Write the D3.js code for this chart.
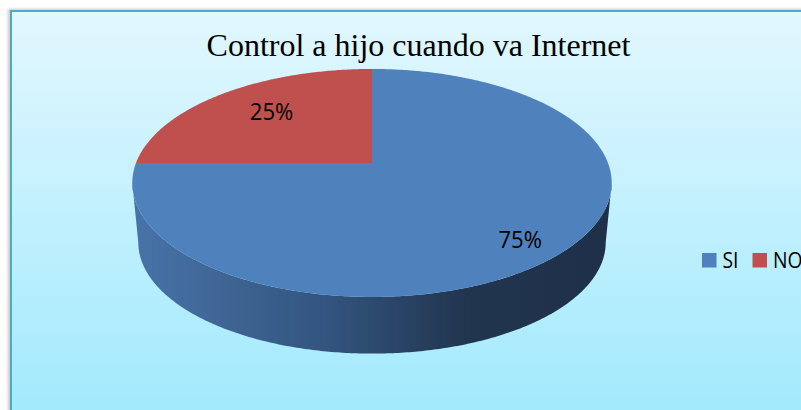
<!DOCTYPE html>
<html>
<head>
<meta charset="utf-8">
<script src="https://cdn.jsdelivr.net/npm/d3@7"></script>
<style>
  body { margin: 0; background: #fff; }
</style>
</head>
<body>
<div id="chart"></div>
<script>
// data
const categories = ["SI", "NO"];
const values = [75, 25];
const colors = ["#4f81bd", "#c0504d"];
const title = "Control a hijo cuando va Internet";

const width = 801;
const height = 410;

// 3d pie "camera": centre, radii, perspective and depth
const cx = 372, cy = 163;
const A = 236, B = 110.5, p = 0.175;
const depth = 60, shrink = 0.975;
const labelRadius = {SI: 0.8, NO: 0.65};
const labelStretch = 1.1;

const svg = d3.select("#chart").append("svg")
    .attr("width", width)
    .attr("height", height);

const defs = svg.append("defs");

// background gradient
const bg = defs.append("linearGradient")
    .attr("id", "bg").attr("x1", 0).attr("y1", 0).attr("x2", 0).attr("y2", 1);
bg.append("stop").attr("offset", 0).attr("stop-color", "#e2f7fe");
bg.append("stop").attr("offset", 1).attr("stop-color", "#9fe9fd");

// side gradient (left lighter, right dark)
const side = defs.append("linearGradient")
    .attr("id", "side").attr("gradientUnits", "userSpaceOnUse")
    .attr("x1", cx - A).attr("x2", cx + A).attr("y1", 0).attr("y2", 0);
side.append("stop").attr("offset", 0).attr("stop-color", "#4873a8");
side.append("stop").attr("offset", 0.4).attr("stop-color", "#33557f");
side.append("stop").attr("offset", 0.7).attr("stop-color", "#21354f");
side.append("stop").attr("offset", 1).attr("stop-color", "#1f3049");

const shadow = defs.append("filter").attr("id", "shadow")
    .attr("x", "-5%").attr("y", "-5%").attr("width", "110%").attr("height", "110%");
shadow.append("feGaussianBlur").attr("stdDeviation", 1.5);

// chart area frame
svg.append("rect")
    .attr("x", 8).attr("y", 9).attr("width", 820).attr("height", 420)
    .attr("fill", "#c8c8c8").attr("filter", "url(#shadow)");
svg.append("rect")
    .attr("x", 11).attr("y", 11).attr("width", 820).attr("height", 420)
    .attr("fill", "url(#bg)")
    .attr("stroke", "#4bacc6").attr("stroke-width", 2);

// title
svg.append("text")
    .attr("x", 418.5).attr("y", 56)
    .attr("text-anchor", "middle")
    .attr("font-family", "'Liberation Serif', 'Times New Roman', serif")
    .attr("font-size", 32)
    .attr("fill", "#000")
    .text(title);

// projection of a pie angle (d3 convention) at radius r onto top (0) or bottom (1) face
function proj(a, r, level) {
  const X = Math.sin(a) * r, Z = -Math.cos(a) * r;
  const s = level ? shrink : 1;
  const w = 1 - p * Z;
  return [cx + s * A * X / w, cy + (level ? depth : 0) + s * B * Z / w];
}

function arcPoints(a0, a1, level) {
  const n = Math.max(2, Math.ceil(Math.abs(a1 - a0) / 0.01));
  return d3.range(n + 1).map(i => proj(a0 + (a1 - a0) * i / n, 1, level));
}

const pie = d3.pie().sort(null).value(d => d)
    .startAngle(0).endAngle(2 * Math.PI);
const arcs = pie(values);

// side wall (visible front part)
const aR = Math.acos(-p), aL = 2 * Math.PI - Math.acos(-p);
const sidePts = arcPoints(aR, aL, 0).concat(arcPoints(aL, aR, 1));
svg.append("path")
    .attr("d", d3.line()(sidePts) + "Z")
    .attr("fill", "url(#side)");

// top face slices
svg.selectAll("path.slice")
    .data(arcs)
    .join("path")
    .attr("class", "slice")
    .attr("d", d => d3.line()([[cx, cy]].concat(arcPoints(d.startAngle, d.endAngle, 0))) + "Z")
    .attr("fill", (d, i) => colors[i]);

// data labels
const labelFont = "'Open Sans', sans-serif";
svg.selectAll("text.lbl")
    .data(arcs)
    .join("text")
    .attr("class", "lbl")
    .attr("transform", (d, i) => {
      const pt = proj((d.startAngle + d.endAngle) / 2, labelRadius[categories[i]], 0);
      return `translate(${pt[0]},${cy + (pt[1] - cy) * labelStretch}) scale(0.92,1)`;
    })
    .attr("dy", "0.36em")
    .attr("text-anchor", "middle")
    .attr("font-family", labelFont)
    .attr("font-size", 24)
    .attr("fill", "#000")
    .text(d => d3.format(".0%")(d.value / d3.sum(values)));

// legend
const legend = svg.append("g").attr("transform", "translate(702,253)");
const lx = d3.scaleOrdinal().domain(categories).range([0, 50.5]);
categories.forEach((c, i) => {
  const g = legend.append("g").attr("transform", `translate(${lx(c)},0)`);
  g.append("rect").attr("width", 14.5).attr("height", 14.5).attr("fill", colors[i]);
  g.append("text")
      .attr("transform", "translate(20.5,14.5) scale(0.92,1)")
      .attr("font-family", labelFont)
      .attr("font-size", 21)
      .attr("fill", "#000")
      .text(c);
});
</script>
</body>
</html>
